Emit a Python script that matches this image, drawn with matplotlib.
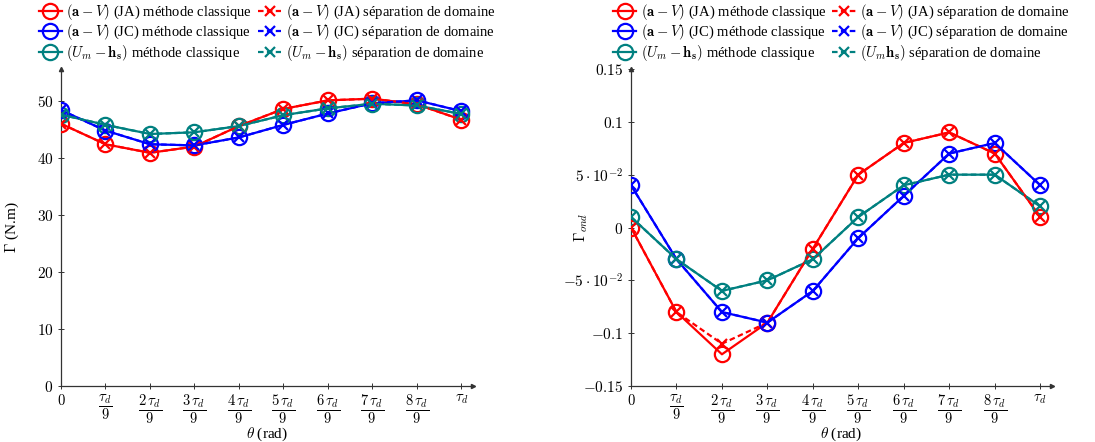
import matplotlib
matplotlib.use("Agg")
import matplotlib.pyplot as plt
import numpy as np

plt.rcParams['font.family'] = ['Liberation Serif', 'DejaVu Serif']
plt.rcParams['mathtext.fontset'] = 'cm'

# ---- data ----
theta_idx = list(range(10))
xtick_labels = [r'$0$', r'$\dfrac{\tau_d}{9}$', r'$\dfrac{2\,\tau_d}{9}$', r'$\dfrac{3\,\tau_d}{9}$',
                r'$\dfrac{4\,\tau_d}{9}$', r'$\dfrac{5\,\tau_d}{9}$', r'$\dfrac{6\,\tau_d}{9}$',
                r'$\dfrac{7\,\tau_d}{9}$', r'$\dfrac{8\,\tau_d}{9}$', r'$\tau_d$']

# Left: torque Gamma (N.m)
ja_classic = [46.0, 42.4, 40.9, 42.0, 45.6, 48.6, 50.1, 50.4, 49.4, 46.7]
ja_sep     = [46.0, 42.4, 40.9, 42.0, 45.6, 48.6, 50.1, 50.4, 49.4, 46.7]
jc_classic = [48.4, 44.8, 42.4, 42.2, 43.6, 45.8, 47.8, 49.6, 50.1, 48.2]
jc_sep     = [48.4, 44.8, 42.4, 42.2, 43.6, 45.8, 47.8, 49.6, 50.1, 48.2]
um_classic = [47.6, 45.8, 44.2, 44.5, 45.6, 47.5, 48.7, 49.5, 49.2, 47.7]
um_sep     = [47.6, 45.8, 44.2, 44.5, 45.6, 47.5, 48.7, 49.5, 49.2, 47.7]
left_yticks = [0, 10, 20, 30, 40, 50]

# Right: ripple Gamma_ond
ja_classic_r = [0.0, -0.08, -0.12, -0.09, -0.02, 0.05, 0.08, 0.09, 0.07, 0.01]
ja_sep_r     = [0.0, -0.08, -0.11, -0.09, -0.02, 0.05, 0.08, 0.09, 0.07, 0.01]
jc_classic_r = [0.04, -0.03, -0.08, -0.09, -0.06, -0.01, 0.03, 0.07, 0.08, 0.04]
jc_sep_r     = [0.04, -0.03, -0.08, -0.09, -0.06, -0.01, 0.03, 0.07, 0.08, 0.04]
um_classic_r = [0.01, -0.03, -0.06, -0.05, -0.03, 0.01, 0.04, 0.05, 0.05, 0.02]
um_sep_r     = [0.01, -0.03, -0.06, -0.05, -0.03, 0.01, 0.04, 0.05, 0.05, 0.02]
right_yticks = [-0.15, -0.1, -0.05, 0, 0.05, 0.1, 0.15]
right_ytick_labels = [r'$-0.15$', r'$-0.1$', r'$-5\cdot10^{-2}$', r'$0$', r'$5\cdot10^{-2}$',
                      r'$0.1$', r'$0.15$']

RED, BLUE, TEAL = '#ff0000', '#0000ff', '#008080'

fig = plt.figure(figsize=(10.95, 4.42), dpi=100)
axL = fig.add_axes([61/1095, 1-386/442, (473-61)/1095, (386-69)/442])
axR = fig.add_axes([631/1095, 1-386/442, (1052-631)/1095, (386-69)/442])


def draw(ax, series, labels):
    handles = []
    for (yc, ys, col), (lc, ls) in zip(series, labels):
        hc, = ax.plot(theta_idx, yc, '-', color=col, lw=1.6, marker='o', ms=11,
                      mfc='none', mec=col, mew=1.6, label=lc, zorder=3)
        hs, = ax.plot(theta_idx, ys, '--', color=col, lw=1.6, marker='x', ms=7,
                      mec=col, mew=1.6, label=ls, zorder=4, dashes=(2.5, 1.5))
        handles.append((hc, hs))
    return handles


def style(ax):
    for s in ['top', 'right']:
        ax.spines[s].set_visible(False)
    for s in ['left', 'bottom']:
        ax.spines[s].set_color('#333333')
        ax.spines[s].set_linewidth(0.9)
    ax.set_xlim(0, 9.26)
    ax.set_xticks(theta_idx)
    ax.set_xticklabels(xtick_labels)
    ax.tick_params(direction='inout', length=4, width=0.7, colors='#333333', labelsize=11,
                   labelcolor='black')
    ax.tick_params(axis='x', labelsize=10.5, pad=3)
    ax.plot(1, 0, '>', color='#333333', ms=3, transform=ax.transAxes, clip_on=False)
    ax.plot(0, 1, '^', color='#333333', ms=3, transform=ax.transAxes, clip_on=False)
    ax.set_xlabel(r'$\theta$ (rad)', fontsize=11)
    ax.xaxis.set_label_coords(0.5, -0.126)


hL = draw(axL, [(ja_classic, ja_sep, RED), (jc_classic, jc_sep, BLUE), (um_classic, um_sep, TEAL)],
          [(r'$(\mathbf{a}-V)$ (JA) méthode classique', r'$(\mathbf{a}-V)$ (JA) séparation de domaine'),
           (r'$(\mathbf{a}-V)$ (JC) méthode classique', r'$(\mathbf{a}-V)$ (JC) séparation de domaine'),
           (r'$(U_m-\mathbf{h_s})$ méthode classique', r'$(U_m-\mathbf{h_s})$ séparation de domaine')])
style(axL)
axL.set_ylim(0, 55.6)
axL.set_yticks(left_yticks)
axL.set_yticklabels([f'${v}$' for v in left_yticks])
axL.set_ylabel(r'$\Gamma$ (N.m)', fontsize=11)
axL.yaxis.set_label_coords(-0.097, 0.5)

hR = draw(axR, [(ja_classic_r, ja_sep_r, RED), (jc_classic_r, jc_sep_r, BLUE), (um_classic_r, um_sep_r, TEAL)],
          [(r'$(\mathbf{a}-V)$ (JA) méthode classique', r'$(\mathbf{a}-V)$ (JA) séparation de domaine'),
           (r'$(\mathbf{a}-V)$ (JC) méthode classique', r'$(\mathbf{a}-V)$ (JC) séparation de domaine'),
           (r'$(U_m-\mathbf{h_s})$ méthode classique', r'$(U_m\mathbf{h_s})$ séparation de domaine')])
style(axR)
axR.set_ylim(-0.15, 0.15)
axR.set_yticks(right_yticks)
axR.set_yticklabels(right_ytick_labels)
axR.set_ylabel(r'$\Gamma_{ond}$', fontsize=11)
axR.yaxis.set_label_coords(-0.097, 0.5)

for ax, h in [(axL, hL), (axR, hR)]:
    order = [p[0] for p in h] + [p[1] for p in h]
    ax.legend(handles=order, loc='lower center', bbox_to_anchor=(0.5, 1.0), ncol=2,
              frameon=False, fontsize=10.5, handlelength=1.6, handletextpad=0.3,
              columnspacing=0.4, labelspacing=0.05, borderaxespad=0.3, borderpad=0.1)

fig.savefig('out.png', dpi=100)
